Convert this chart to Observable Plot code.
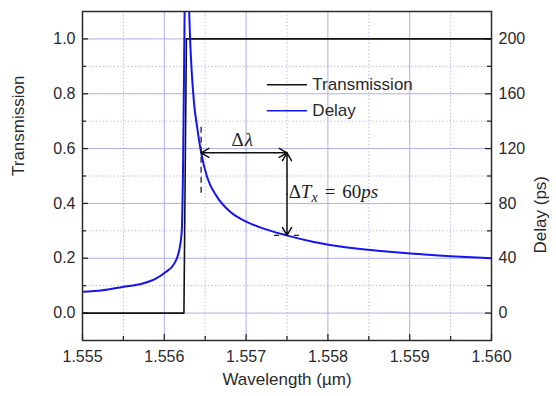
<!DOCTYPE html>
<html><head><meta charset="utf-8">
<script src="https://cdn.jsdelivr.net/npm/d3@7"></script>
<script src="https://cdn.jsdelivr.net/npm/@observablehq/plot@0.6"></script>
<style>body{margin:0;background:#fff}#chart{width:556px;height:396px}</style>
</head><body><div id="chart"></div>
<script>
// ---- data ----
const transWavelength = [1.555, 1.55624, 1.55627, 1.560];
const transmission    = [0, 0, 1, 1];

const delayWavelength = [1.555, 1.555244, 1.555489, 1.555734, 1.555896, 1.556018, 1.556121, 1.556182, 1.556214, 1.55623, 1.55625, 1.556275, 1.5563, 1.556361, 1.556402, 1.556451, 1.556524, 1.556647, 1.556809, 1.557013, 1.557216, 1.557494, 1.557828, 1.558236, 1.558643, 1.55901, 1.559499, 1.560];
const delayPs         = [15.5, 16.7, 19.1, 21.6, 25.2, 30, 36.1, 45.8, 60.4, 110, 230, 350, 230, 155, 135.5, 116.9, 99.1, 84.6, 73.7, 66.4, 61.6, 56.7, 51.9, 47.8, 45.3, 43.4, 41.5, 40];

const xMajorTicks = [1.555, 1.556, 1.557, 1.558, 1.559, 1.560];
const xMinorTicks = [1.5555, 1.5565, 1.5575, 1.5585, 1.5595];
const leftMajorTicks = [0, 0.2, 0.4, 0.6, 0.8, 1.0];
const leftMinorTicks = [0.1, 0.3, 0.5, 0.7, 0.9];
const rightTickLabels = [0, 40, 80, 120, 160, 200];
const delayFullScale = 200; // 200 ps on the right axis = 1.0 on the left axis

const legendLabels = ["Transmission", "Delay"];
const legendColors = ["#111111", "#1414f0"];
const legendRowsY = [0.833, 0.738];

// annotation values (wavelength in µm, delay in ps)
const dLambdaStart = 1.55645, dLambdaEnd = 1.5575, upperDelay = 116.9, lowerDelay = 56.7;

// ---- build ----
const transData = transWavelength.map((w, i) => ({w, t: transmission[i]}));
const delayData = delayWavelength.map((w, i) => ({w, d: delayPs[i]}));
const toT = ps => ps / delayFullScale;

const W = 556, H = 396, mL = 82, mR = 65, mT = 11, mB = 56;
const pw = W - mL - mR, ph = H - mT - mB;
const ink = "#2a2a2a";
const gridMajor = "#aeaee8", gridMinor = "#bcbcee";

const midX = (dLambdaStart + dLambdaEnd) / 2;
const midY = (upperDelay + lowerDelay) / 2;
const arrows = [
  {x1: midX, y1: toT(upperDelay), x2: dLambdaStart, y2: toT(upperDelay)},
  {x1: midX, y1: toT(upperDelay), x2: dLambdaEnd, y2: toT(upperDelay)},
  {x1: dLambdaEnd, y1: toT(midY), x2: dLambdaEnd, y2: toT(upperDelay)},
  {x1: dLambdaEnd, y1: toT(midY), x2: dLambdaEnd, y2: toT(lowerDelay)}
];

const chart = Plot.plot({
  width: W, height: H,
  marginLeft: mL, marginRight: mR, marginTop: mT, marginBottom: mB,
  x: {domain: [1.555, 1.560]},
  y: {domain: [-0.1, 1.1]},
  style: {fontFamily: "'Liberation Sans', Arial, sans-serif", fontSize: "16px", color: ink, background: "#fff"},
  marks: [
    Plot.gridX(xMinorTicks, {stroke: gridMinor, strokeOpacity: 1, strokeDasharray: "1.5,2"}),
    Plot.gridY(leftMinorTicks, {stroke: gridMinor, strokeOpacity: 1, strokeDasharray: "1.5,2"}),
    Plot.gridX(xMajorTicks, {stroke: gridMajor, strokeOpacity: 1}),
    Plot.gridY(leftMajorTicks, {stroke: gridMajor, strokeOpacity: 1}),
    // inward tick marks
    Plot.tickY(leftMajorTicks, {y: d => d, insetRight: pw - 6, stroke: ink, strokeWidth: 1.3}),
    Plot.tickY(leftMinorTicks, {y: d => d, insetRight: pw - 4, stroke: ink, strokeWidth: 1.3}),
    Plot.tickY(leftMajorTicks, {y: d => d, insetLeft: pw - 6, stroke: ink, strokeWidth: 1.3}),
    Plot.tickY(leftMinorTicks, {y: d => d, insetLeft: pw - 4, stroke: ink, strokeWidth: 1.3}),
    Plot.tickX(xMajorTicks, {x: d => d, insetTop: ph - 6, stroke: ink, strokeWidth: 1.3}),
    Plot.tickX(xMinorTicks, {x: d => d, insetTop: ph - 4, stroke: ink, strokeWidth: 1.3}),
    // data
    Plot.line(transData, {x: "w", y: "t", stroke: "#111", strokeWidth: 1.6}),
    Plot.line(delayData, {x: "w", y: d => toT(d.d), stroke: "#1414f0", strokeWidth: 2, curve: "monotone-x", clip: true}),
    Plot.frame({stroke: ink, strokeWidth: 1.5}),
    // axes
    Plot.axisY(leftMajorTicks, {anchor: "left", tickSize: 0, tickPadding: 7, tickFormat: d => d.toFixed(1), label: null}),
    Plot.axisY(leftMajorTicks, {anchor: "right", tickSize: 0, tickPadding: 7, tickFormat: (d, i) => String(rightTickLabels[i]), label: null}),
    Plot.axisX(xMajorTicks, {anchor: "bottom", tickSize: 0, tickPadding: 10, tickFormat: d => d.toFixed(3), label: null}),
    Plot.text(["Transmission"], {frameAnchor: "left", dx: -64, rotate: -90, fontSize: 17, fill: ink}),
    Plot.text(["Delay (ps)"], {frameAnchor: "right", dx: 49, rotate: -90, fontSize: 17, fill: ink}),
    Plot.text(["Wavelength (\u00b5m)"], {frameAnchor: "bottom", dy: 44, fontSize: 17, fill: ink}),
    // legend
    ...legendLabels.map((lab, i) => Plot.ruleY([legendRowsY[i]], {x1: 1.55726, x2: 1.55775, stroke: legendColors[i], strokeWidth: 1.6})),
    ...legendLabels.map((lab, i) => Plot.text([lab], {x: 1.55781, y: legendRowsY[i], textAnchor: "start", fontSize: 17, fill: ink})),
    // annotations
    Plot.ruleX([dLambdaStart], {y1: toT(135.5), y2: toT(87.3), stroke: "#222", strokeWidth: 1.3, strokeDasharray: "6,4"}),
    Plot.ruleY([toT(lowerDelay)], {x1: 1.557347, x2: 1.557653, stroke: "#222", strokeWidth: 1.3, strokeDasharray: "5,15"}),
    Plot.arrow(arrows, {x1: "x1", y1: "y1", x2: "x2", y2: "y2", stroke: "#111", strokeWidth: 1.5, headLength: 9}),
    Plot.text(["\u0394\u03bb"], {x: 1.556953, y: toT(126.5), fontSize: 19, fill: "#222", fontFamily: "'Liberation Serif', serif"}),
    Plot.text(["\u0394Tx = 60ps"], {x: 1.55752, y: toT(88.7), textAnchor: "start", fontSize: 19, fill: "#222", fontFamily: "'Liberation Serif', serif"})
  ]
});
document.getElementById("chart").appendChild(chart);

// typeset the math-style annotation labels
d3.select(chart).selectAll("text").each(function() {
  const t = this.textContent;
  const sel = d3.select(this);
  if (t === "\u0394\u03bb") {
    sel.text(null);
    sel.append("tspan").text("\u0394");
    sel.append("tspan").attr("font-style", "italic").attr("dx", 1).text("\u03bb");
  } else if (t === "\u0394Tx = 60ps") {
    sel.text(null);
    sel.append("tspan").text("\u0394");
    sel.append("tspan").attr("font-style", "italic").text("T");
    sel.append("tspan").attr("font-style", "italic").attr("font-size", "14px").attr("dy", 4).text("x");
    sel.append("tspan").attr("dy", -4).attr("dx", 7).text("=");
    sel.append("tspan").attr("dx", 7).text("60");
    sel.append("tspan").attr("font-style", "italic").text("ps");
  }
});
</script></body></html>
